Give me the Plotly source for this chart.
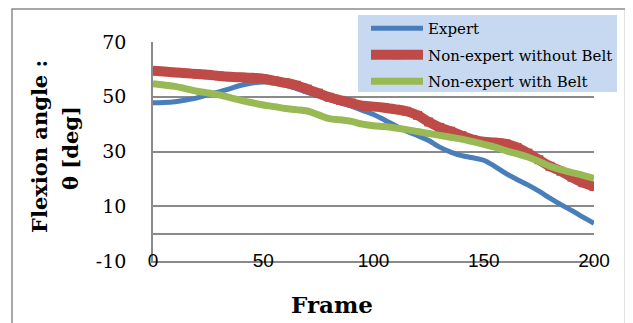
import plotly.graph_objects as go

frames = list(range(0, 201, 5))
expert = [47.8, 47.9, 48.2, 48.8, 49.6, 50.8, 51.8, 53.0, 54.2, 55.0, 55.4, 55.2, 54.3, 53.0, 51.6,
          50.3, 49.0, 47.8, 46.6, 45.0, 43.5, 41.5, 39.4, 37.4, 35.8, 34.0, 31.6, 29.8, 28.5, 27.7,
          26.8, 24.6, 22.0, 19.8, 17.8, 15.5, 13.0, 10.6, 8.4, 6.0, 3.8]
no_belt = [59.5, 59.2, 58.9, 58.6, 58.3, 58.0, 57.6, 57.3, 57.1, 56.9, 56.6, 55.8, 55.1, 54.2, 52.8,
           51.3, 49.8, 48.7, 47.7, 46.7, 46.4, 46.0, 45.4, 44.7, 43.2, 40.8, 38.8, 37.4, 35.8, 34.4,
           33.6, 33.3, 32.8, 31.5, 29.4, 27.0, 24.6, 22.8, 20.6, 18.6, 17.2]
with_belt = [54.8, 54.3, 53.8, 52.9, 52.0, 51.4, 50.7, 49.7, 48.7, 47.8, 47.0, 46.4, 45.7, 45.3, 44.8,
             43.4, 42.0, 41.6, 41.0, 40.0, 39.4, 39.1, 38.6, 38.0, 37.3, 36.6, 35.9, 35.2, 34.5, 33.6,
             32.6, 31.6, 30.3, 29.2, 28.0, 26.4, 24.6, 23.4, 22.3, 21.3, 20.2]
series_names = ["Expert", "Non-expert without Belt", "Non-expert with Belt"]
x_ticks = [0, 50, 100, 150, 200]
y_ticks = [-10, 10, 30, 50, 70]

BLUE, RED, GREEN = "#4A7EBB", "#BE4B48", "#98B954"
GRID = "#8a8a8a"
SERIF = "DejaVu Serif"

fig = go.Figure()
fig.add_trace(go.Scatter(x=frames, y=expert, name=series_names[0], mode="lines", legendgroup="a",
                         line=dict(color=BLUE, width=5, shape="spline")))
fig.add_trace(go.Scatter(x=frames, y=no_belt, name=series_names[1], mode="lines+markers", legendgroup="b",
                         line=dict(color=RED, width=10, shape="spline"),
                         marker=dict(symbol="square", size=9, color=RED)))
fig.add_trace(go.Scatter(x=frames, y=with_belt, name=series_names[2], mode="lines+markers", legendgroup="c",
                         line=dict(color=GREEN, width=7, shape="spline"),
                         marker=dict(symbol="triangle-up", size=5, color=GREEN)))

# page body has an 8px margin: work in reference pixel coordinates, shifted by OFF
OFF = 8
W, H = 633 - OFF, 323 - OFF
L, T = 153 - OFF, 42 - OFF
pw, ph = 441, 219
R = W - L - pw
B = H - T - ph

def px(x):
    return (x - OFF - L) / pw

def py(y):
    return (T + ph - (y - OFF)) / ph

fig.update_layout(
    width=W, height=H,
    margin=dict(l=L, r=R, t=T, b=B, pad=0, autoexpand=False),
    paper_bgcolor="white", plot_bgcolor="white",
    showlegend=True,
    legend=dict(x=px(366), y=py(12), xanchor="left", yanchor="top",
                bgcolor="rgba(0,0,0,0)", borderwidth=0, itemwidth=52,
                font=dict(family=SERIF, size=15, color="black"),
                traceorder="grouped", tracegroupgap=4),
    shapes=[
        dict(type="rect", xref="paper", yref="paper", x0=px(12), x1=px(625.5), y0=py(340), y1=py(8.9),
             line=dict(color="#8c8c8c", width=1.5), fillcolor="rgba(0,0,0,0)", layer="below"),
        dict(type="rect", xref="paper", yref="paper", x0=px(358), x1=px(617), y0=py(92), y1=py(15),
             line=dict(width=0), fillcolor="#C6D9F1", layer="above"),
    ],
    annotations=[
        dict(text="<b>Frame</b>", xref="paper", yref="paper", x=px(332), y=py(304),
             xanchor="center", yanchor="middle", showarrow=False,
             font=dict(family=SERIF, size=23, color="black")),
        dict(text="<b>Flexion angle :</b>", xref="paper", yref="paper", x=px(39), y=py(147),
             xanchor="center", yanchor="middle", showarrow=False, textangle=-90,
             font=dict(family=SERIF, size=21, color="black")),
        dict(text="<b>θ [deg]</b>", xref="paper", yref="paper", x=px(70), y=py(148),
             xanchor="center", yanchor="middle", showarrow=False, textangle=-90,
             font=dict(family=SERIF, size=21, color="black")),
    ],
)
fig.update_xaxes(range=[0, 200], tickvals=x_ticks, ticktext=[str(v) for v in x_ticks],
                 showgrid=False, zeroline=False, showline=True, linecolor=GRID, linewidth=1.5,
                 ticks="", ticklabelstandoff=-19,
                 tickfont=dict(family="Liberation Sans", size=19, color="black"))
fig.update_yaxes(range=[-10, 70], tickvals=y_ticks, ticktext=[str(v) for v in y_ticks],
                 showgrid=True, gridcolor=GRID, gridwidth=1.5,
                 zeroline=True, zerolinecolor=GRID, zerolinewidth=1.5,
                 showline=True, linecolor=GRID, linewidth=1.5,
                 ticks="", ticklabelstandoff=21,
                 tickfont=dict(family=SERIF, size=19, color="black"))

fig.write_html("out.html")
